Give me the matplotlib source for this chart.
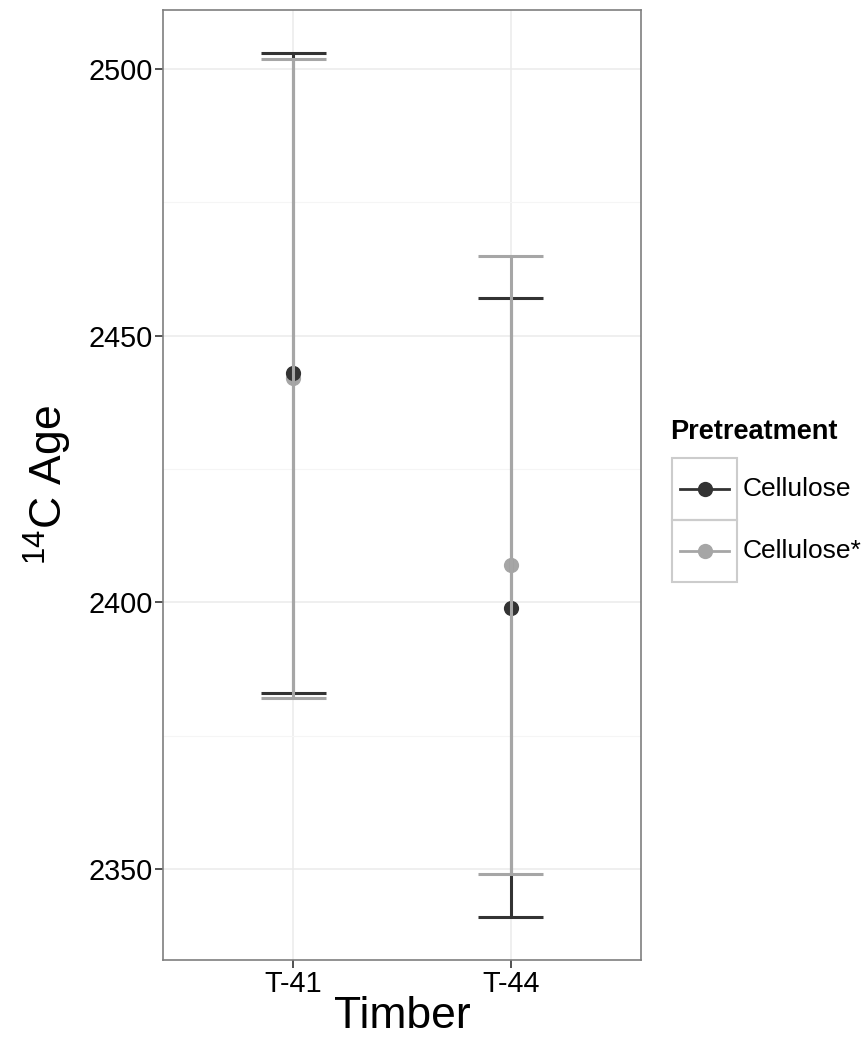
import matplotlib.pyplot as plt
from matplotlib.lines import Line2D
from matplotlib.patches import Rectangle
import numpy as np

timbers = ['T-41', 'T-44']
treatments = ['Cellulose', 'Cellulose*']
age = {'Cellulose': [2443, 2399], 'Cellulose*': [2442, 2407]}
err = {'Cellulose': [60, 58], 'Cellulose*': [60, 58]}
colors = {'Cellulose': '#333333', 'Cellulose*': '#a6a6a6'}

plt.rcParams['font.family'] = ['Liberation Sans', 'DejaVu Sans']

W, H = 864, 1037
fig = plt.figure(figsize=(W / 100, H / 100), dpi=100)
ax = fig.add_axes([163 / W, 1 - 960 / H, (641 - 163) / W, (960 - 10) / H])

x = np.arange(len(timbers))
# points first, error bars on top (as in the reference)
for t in treatments[::-1]:
    ax.scatter(x, age[t], s=120, color=colors[t], zorder=3, linewidths=0)
for t in treatments:
    ax.errorbar(x, age[t], yerr=err[t], fmt='none', ecolor=colors[t],
                elinewidth=2.2, capsize=0, zorder=4)
    for xi, a, e in zip(x, age[t], err[t]):
        ax.hlines([a - e, a + e], xi - 0.15, xi + 0.15, color=colors[t], lw=2.2, zorder=4)

ax.set_xlim(-0.6, 1.6)
ax.set_ylim(2332.9, 2511.1)
ax.set_xticks(x)
ax.set_xticklabels(timbers)
ax.set_yticks([2350, 2400, 2450, 2500])
ax.set_yticks([2375, 2425, 2475], minor=True)
ax.grid(True, which='major', color='#ebebeb', lw=1.1, zorder=0)
ax.grid(True, which='minor', axis='y', color='#f5f5f5', lw=0.8, zorder=0)
ax.set_axisbelow(True)
for s in ax.spines.values():
    s.set_color('#7f7f7f')
    s.set_linewidth(1.2)
ax.tick_params(axis='both', which='major', length=6, width=1.2, color='#333333',
               labelsize=20.8, labelcolor='black', pad=1.5)
ax.tick_params(axis='both', which='minor', length=0)

ax.set_xlabel('Timber', fontsize=32, labelpad=-2)
ax.set_ylabel(r'$^{\mathregular{14}}$C Age', fontsize=32, labelpad=10)

# legend drawn as ggplot-style keys
fig.text(670 / W, 1 - 432 / H, 'Pretreatment', fontsize=19.5, fontweight='bold',
         va='center', ha='left')
for i, t in enumerate(treatments):
    top = 458 + i * 62
    fig.add_artist(Rectangle((672 / W, 1 - (top + 62) / H), 65 / W, 62 / H,
                             transform=fig.transFigure, fill=False,
                             edgecolor='#cccccc', lw=1.5))
    yc = 1 - (top + 31) / H
    fig.add_artist(Line2D([680 / W, 729 / W], [yc, yc], transform=fig.transFigure,
                          color=colors[t], lw=2))
    fig.add_artist(Line2D([705 / W], [yc], transform=fig.transFigure, marker='o',
                          markersize=11, color=colors[t], markeredgewidth=0))
    fig.text(743 / W, yc, t, fontsize=19, va='center', ha='left')

fig.savefig('out.png', dpi=100)
